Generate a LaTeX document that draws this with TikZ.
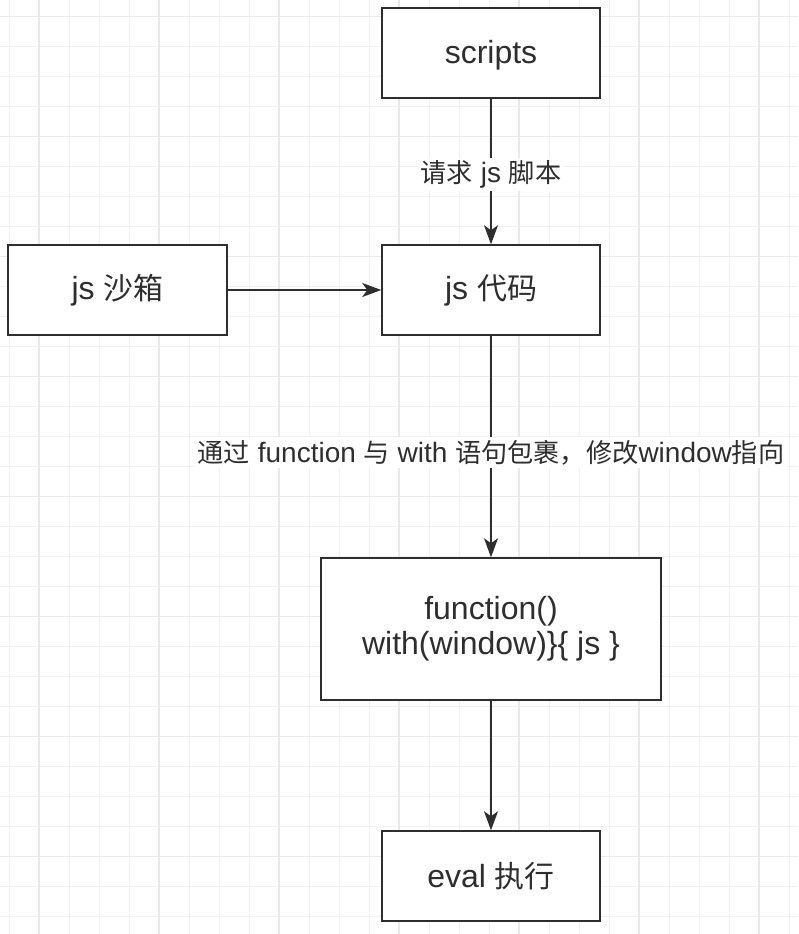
\documentclass[tikz,border=0pt]{standalone}
\usepackage{fontspec}
\setmainfont{Liberation Sans}
\newfontfamily\zhfont[Scale=0.935]{Noto Sans CJK SC}
\newcommand\zh[1]{{\zhfont #1}}
\usetikzlibrary{arrows.meta}
\definecolor{ink}{HTML}{2E2E2E}
\definecolor{gridminor}{HTML}{F1F1F1}
\definecolor{gridmajor}{HTML}{E9E9E9}
\tikzset{
  box/.style={draw=ink, line width=1.5pt, fill=white, inner sep=0pt, text=ink,
    align=center, font=\fontsize{32}{35}\selectfont},
  conn/.style={draw=ink, line width=1.5pt, -{Stealth[length=19pt,width=14pt,inset=5pt]}},
  elabel/.style={fill=white, inner sep=3pt, text=ink, font=\fontsize{28}{32}\selectfont},
}
\begin{document}
\begin{tikzpicture}[x=1pt,y=-1pt]
\useasboundingbox (0,0) rectangle (798,934);
\fill[white] (0,0) rectangle (798,934);
% grid
\foreach \x in {9,39,...,789} \draw[gridminor, line width=1pt] (\x,0) -- (\x,934);
\foreach \y in {16.8,46.8,...,930} \draw[gridminor, line width=1pt] (0,\y) -- (798,\y);
\foreach \x in {39,159,...,759} \draw[gridmajor, line width=1.2pt] (\x,0) -- (\x,934);
\foreach \y in {16.8,136.8,...,930} \draw[gridmajor, line width=1.2pt] (0,\y) -- (798,\y);
% nodes
\node[box, minimum width=218pt, minimum height=90pt] (scripts) at (491,53) {\raisebox{-10.5pt}[0pt][0pt]{scripts}};
\node[box, minimum width=219pt, minimum height=90pt] (sandbox) at (117.5,290) {js \zh{沙箱}};
\node[box, minimum width=218pt, minimum height=90pt] (code) at (491,290) {js \zh{代码}};
\node[box, minimum width=340pt, minimum height=142pt] (func) at (491,629) {function()\\with(window)\}\{ js \}};
\node[box, minimum width=218pt, minimum height=90pt] (eval) at (491,876) {eval \zh{执行}};
% connectors
\draw[conn] (scripts) -- node[elabel, yshift=-3pt] {\zh{请求} js \zh{脚本}} (code);
\draw[conn] (sandbox) -- (code);
\draw[conn] (code) -- node[elabel, yshift=-6pt] {\zh{通过} function \zh{与} with \zh{语句包裹，修改}window\zh{指向}} (func);
\draw[conn] (func) -- (eval);
\end{tikzpicture}
\end{document}
